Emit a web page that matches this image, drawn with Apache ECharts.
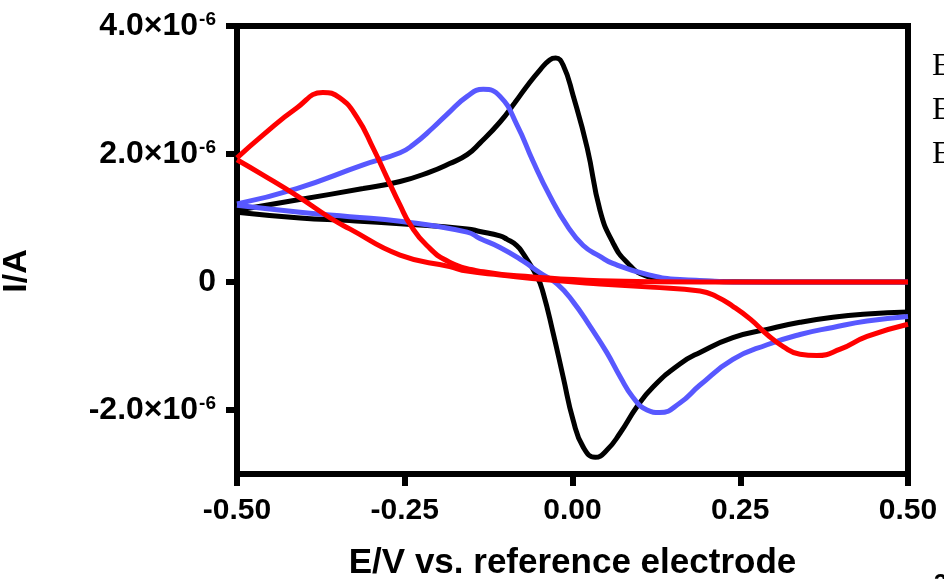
<!DOCTYPE html>
<html>
<head>
<meta charset="utf-8">
<script src="https://cdn.jsdelivr.net/npm/echarts@6/dist/echarts.min.js"></script>
<style>
  html, body { margin: 0; padding: 0; background: #fff; }
  #chart { width: 944px; height: 579px; }
</style>
</head>
<body>
<div id="chart"></div>
<script>
// Cyclic voltammograms: potential (V) and current (µA) for each scan branch.
const blackFwdE = [-0.50, -0.411, -0.312, -0.257, -0.212, -0.183, -0.157, -0.138, -0.108, -0.086, -0.068, -0.048, -0.034, -0.025, -0.014, 0.001, 0.022, 0.041, 0.060, 0.081, 0.111, 0.160, 0.30, 0.50];
const blackFwdI = [1.12, 1.28, 1.46, 1.57, 1.72, 1.85, 1.99, 2.17, 2.50, 2.80, 3.06, 3.32, 3.47, 3.50, 3.39, 2.91, 2.09, 1.12, 0.62, 0.31, 0.09, 0.02, 0.0, 0.0];
const blackRevE = [0.50, 0.439, 0.388, 0.339, 0.290, 0.239, 0.190, 0.160, 0.120, 0.096, 0.071, 0.051, 0.034, 0.016, 0.001, -0.014, -0.029, -0.044, -0.053, -0.074, -0.083, -0.098, -0.108, -0.138, -0.157, -0.257, -0.332, -0.406, -0.50];
const blackRevI = [-0.47, -0.50, -0.55, -0.63, -0.74, -0.87, -1.10, -1.28, -1.64, -1.95, -2.36, -2.63, -2.74, -2.58, -2.16, -1.48, -0.79, -0.16, 0.09, 0.45, 0.57, 0.67, 0.72, 0.79, 0.83, 0.91, 0.96, 1.00, 1.09];

const blueFwdE = [-0.50, -0.411, -0.312, -0.257, -0.238, -0.208, -0.187, -0.157, -0.133, -0.108, -0.083, -0.059, -0.034, -0.008, 0.016, 0.041, 0.060, 0.111, 0.160, 0.30, 0.50];
const blueFwdI = [1.22, 1.46, 1.83, 2.02, 2.14, 2.41, 2.62, 2.90, 3.01, 2.90, 2.46, 1.89, 1.35, 0.88, 0.57, 0.40, 0.29, 0.12, 0.04, 0.0, 0.0];
const blueRevE = [0.50, 0.439, 0.388, 0.339, 0.290, 0.239, 0.190, 0.160, 0.130, 0.111, 0.090, 0.071, 0.051, 0.026, 0.001, -0.023, -0.048, -0.074, -0.108, -0.138, -0.157, -0.257, -0.332, -0.406, -0.50];
const blueRevI = [-0.54, -0.61, -0.71, -0.82, -0.98, -1.21, -1.61, -1.89, -2.04, -2.00, -1.80, -1.48, -1.10, -0.69, -0.31, -0.03, 0.14, 0.33, 0.54, 0.68, 0.78, 0.95, 1.02, 1.09, 1.20];

const redFwdE = [-0.50, -0.461, -0.411, -0.372, -0.347, -0.321, -0.297, -0.276, -0.257, -0.242, -0.217, -0.183, -0.133, -0.059, 0.041, 0.19, 0.50];
const redFwdI = [1.94, 2.30, 2.72, 2.96, 2.88, 2.57, 2.09, 1.62, 1.20, 0.90, 0.57, 0.31, 0.16, 0.08, 0.02, 0.0, 0.0];
const redRevE = [0.50, 0.439, 0.399, 0.364, 0.339, 0.314, 0.290, 0.265, 0.239, 0.215, 0.190, 0.116, 0.041, -0.034, -0.108, -0.157, -0.183, -0.257, -0.332, -0.361, -0.411, -0.461, -0.50];
const redRevI = [-0.66, -0.85, -1.05, -1.15, -1.13, -1.01, -0.82, -0.58, -0.38, -0.23, -0.14, -0.08, -0.03, 0.03, 0.11, 0.17, 0.24, 0.42, 0.83, 1.00, 1.35, 1.67, 1.91];

const yTicks = [-2e-6, 0, 2e-6, 4e-6];
const legendLetters = ['E', 'E', 'E'];

const pairs = (E, I) => E.map((e, k) => [e, I[k] * 1e-6]);

function branch(E, I, color) {
  return {
    type: 'line',
    data: pairs(E, I),
    showSymbol: false,
    smooth: 0.5,
    lineStyle: { color: color, width: 5 },
    silent: true
  };
}

const sansBold = { fontFamily: 'Liberation Sans, Arial, sans-serif', fontWeight: 'bold', color: '#000' };

const chart = echarts.init(document.getElementById('chart'), null, { renderer: 'canvas' });
chart.setOption({
  animation: false,
  backgroundColor: '#fff',
  grid: {
    left: 237, right: 36, top: 26, bottom: 105,
    outerBoundsMode: 'none', containLabel: false,
    show: true, borderColor: '#000', borderWidth: 6, backgroundColor: '#fff'
  },
  xAxis: {
    type: 'value', min: -0.5, max: 0.5, interval: 0.25,
    name: 'E/V vs. reference electrode', nameLocation: 'middle', nameGap: 72,
    nameTextStyle: Object.assign({ fontSize: 35 }, sansBold),
    axisLine: { onZero: false, lineStyle: { color: '#000', width: 6 } },
    axisTick: { length: 12, lineStyle: { color: '#000', width: 6 } },
    axisLabel: Object.assign({ fontSize: 30, margin: 22, formatter: v => v.toFixed(2) }, sansBold),
    splitLine: { show: false }
  },
  yAxis: {
    type: 'value', min: -3e-6, max: 4e-6,
    axisLine: { onZero: false, lineStyle: { color: '#000', width: 6 } },
    axisTick: { length: 11, customValues: yTicks, lineStyle: { color: '#000', width: 6 } },
    axisLabel: {
      customValues: yTicks,
      margin: 21,
      formatter: v => Math.abs(v) < 1e-12 ? '{m|0}' : '{m|' + (v / 1e-6).toFixed(1) + '×10}{s|-6}',
      rich: {
        m: Object.assign({ fontSize: 32, lineHeight: 36 }, sansBold),
        s: Object.assign({ fontSize: 19, verticalAlign: 'top', padding: [2, 0, 0, 1] }, sansBold)
      }
    },
    splitLine: { show: false }
  },
  series: [
    branch(blackFwdE, blackFwdI, '#000000'),
    branch(blackRevE, blackRevI, '#000000'),
    branch(blueFwdE, blueFwdI, '#5858ff'),
    branch(blueRevE, blueRevI, '#5858ff'),
    branch(redFwdE, redFwdI, '#ff0000'),
    branch(redRevE, redRevI, '#ff0000')
  ],
  graphic: [
    {
      type: 'text', x: 17, y: 271, rotation: Math.PI / 2,
      style: { text: 'I/A', font: 'bold 34px "Liberation Sans", Arial, sans-serif', fill: '#000', align: 'center', verticalAlign: 'middle' }
    },
    ...legendLetters.map((t, k) => ({
      type: 'text', x: 932, y: 67 + k * 44,
      style: { text: t, font: '32px "Liberation Serif", "Times New Roman", serif', fill: '#000', align: 'left', verticalAlign: 'middle' }
    })),
    {
      type: 'text', x: 934, y: 572,
      style: { text: '3', font: 'bold 24px "Liberation Sans", Arial, sans-serif', fill: '#000', align: 'left', verticalAlign: 'top' }
    }
  ]
});
</script>
</body>
</html>
